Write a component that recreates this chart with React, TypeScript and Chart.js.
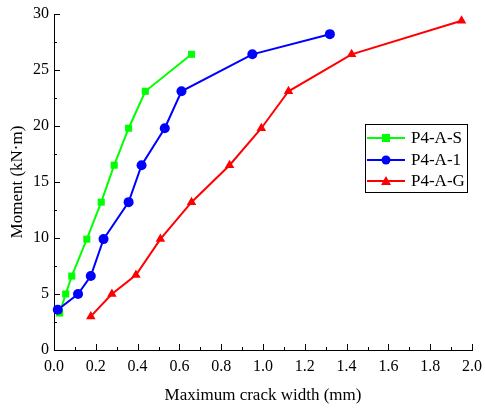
import React, { useEffect, useRef } from "react";
import { Chart, registerables } from "chart.js";

Chart.register(...registerables);

const seriesNames = ["P4-A-S", "P4-A-1", "P4-A-G"];
const seriesColors = ["#00ff00", "#0000ff", "#ff0000"];
const seriesMarkers = ["rect", "circle", "triangle"];

const sX = [0.027, 0.056, 0.085, 0.157, 0.226, 0.288, 0.357, 0.437, 0.658];
const sY = [3.3, 5.0, 6.6, 9.9, 13.2, 16.5, 19.8, 23.1, 26.4];

const aX = [0.018, 0.115, 0.176, 0.237, 0.357, 0.419, 0.53, 0.61, 0.949, 1.32];
const aY = [3.6, 5.0, 6.6, 9.9, 13.2, 16.5, 19.8, 23.1, 26.4, 28.2];

const gX = [0.176, 0.277, 0.392, 0.509, 0.658, 0.84, 0.992, 1.122, 1.424, 1.95];
const gY = [3.0, 5.0, 6.7, 9.9, 13.2, 16.5, 19.8, 23.1, 26.4, 29.4];

const xTickMin = 0;
const xTickMax = 2.0;
const xTickStep = 0.2;
const yTickMin = 0;
const yTickMax = 30;
const yTickStep = 5;

const xTitle = "Maximum crack width (mm)";
const yTitle = "Moment (kN·m)";

const FONT = "'Times New Roman', 'Liberation Serif', serif";

function pts(xs: number[], ys: number[]) {
  return xs.map((x, i) => ({ x, y: ys[i] }));
}

const ticksAndLegend = {
  id: "ticksAndLegend",
  afterDraw(chart: any) {
    const ctx = chart.ctx;
    const xs = chart.scales.x;
    const ys = chart.scales.y;
    const area = chart.chartArea;
    ctx.save();
    ctx.strokeStyle = "#000";
    ctx.lineWidth = 1;
    const nx = Math.round((xTickMax - xTickMin) / (xTickStep / 2));
    for (let i = 0; i <= nx; i++) {
      const v = xTickMin + (i * xTickStep) / 2;
      const px = Math.round(xs.getPixelForValue(v)) + 0.5;
      const len = i % 2 === 0 ? 6 : 3;
      ctx.beginPath();
      ctx.moveTo(px, area.bottom);
      ctx.lineTo(px, area.bottom - len);
      ctx.stroke();
    }
    const ny = Math.round((yTickMax - yTickMin) / (yTickStep / 2));
    for (let i = 0; i <= ny; i++) {
      const v = yTickMin + (i * yTickStep) / 2;
      const py = Math.round(ys.getPixelForValue(v)) + 0.5;
      const len = i % 2 === 0 ? 6 : 3;
      ctx.beginPath();
      ctx.moveTo(area.left, py);
      ctx.lineTo(area.left + len, py);
      ctx.stroke();
    }
    // legend
    const bx = 365.5, by = 124.5, bw = 102, bh = 68;
    ctx.fillStyle = "#fff";
    ctx.fillRect(bx, by, bw, bh);
    ctx.strokeStyle = "#000";
    ctx.lineWidth = 1;
    ctx.strokeRect(bx, by, bw, bh);
    const rows = [138, 160, 181];
    ctx.font = `17px ${FONT}`;
    ctx.textBaseline = "middle";
    ctx.textAlign = "left";
    seriesNames.forEach((name, i) => {
      const yy = rows[i];
      ctx.strokeStyle = seriesColors[i];
      ctx.lineWidth = 2;
      ctx.beginPath();
      ctx.moveTo(367, yy);
      ctx.lineTo(405, yy);
      ctx.stroke();
      ctx.fillStyle = seriesColors[i];
      ctx.beginPath();
      if (seriesMarkers[i] === "rect") {
        ctx.fillRect(386 - 4, yy - 4, 8, 8);
      } else if (seriesMarkers[i] === "circle") {
        ctx.arc(386, yy, 4.5, 0, Math.PI * 2);
        ctx.fill();
      } else {
        ctx.moveTo(386, yy - 5);
        ctx.lineTo(391, yy + 4);
        ctx.lineTo(381, yy + 4);
        ctx.closePath();
        ctx.fill();
      }
      ctx.fillStyle = "#000";
      ctx.fillText(name, 411, yy + 1);
    });
    ctx.restore();
  },
};

export default function App() {
  const ref = useRef<HTMLCanvasElement | null>(null);
  useEffect(() => {
    if (!ref.current) return;
    const data = [pts(sX, sY), pts(aX, aY), pts(gX, gY)];
    const chart = new Chart(ref.current, {
      type: "line",
      data: {
        datasets: seriesNames.map((name, i) => ({
          label: name,
          data: data[i],
          borderColor: seriesColors[i],
          backgroundColor: seriesColors[i],
          borderWidth: 2,
          pointStyle: seriesMarkers[i] as any,
          pointRadius: seriesMarkers[i] === "triangle" ? 5.5 : 5,
          pointBorderWidth: 0,
          tension: 0,
          fill: false,
          clip: false as any,
          order: 3 - i,
        })),
      },
      options: {
        responsive: false,
        animation: false,
        layout: { padding: { top: 14, right: 13, left: 0, bottom: 0 } },
        plugins: { legend: { display: false }, tooltip: { enabled: false } },
        scales: {
          x: {
            type: "linear",
            min: xTickMin,
            max: xTickMax,
            grid: { display: false, drawTicks: false },
            border: { display: true, color: "#000", width: 1 },
            ticks: {
              stepSize: xTickStep,
              padding: 7,
              color: "#000",
              font: { family: FONT, size: 16 },
              callback: (v: any) => Number(v).toFixed(1),
            },
            title: {
              display: true,
              text: xTitle,
              color: "#000",
              font: { family: FONT, size: 17 },
              padding: { top: 0, bottom: 4 },
            },
            afterFit: (s: any) => {
              s.height = 60;
              s.paddingRight = 0;
              s.paddingLeft = 0;
            },
          },
          y: {
            type: "linear",
            min: yTickMin,
            max: yTickMax,
            grid: { display: false, drawTicks: false },
            border: { display: true, color: "#000", width: 1 },
            ticks: {
              stepSize: yTickStep,
              padding: 5,
              color: "#000",
              font: { family: FONT, size: 16 },
            },
            title: {
              display: true,
              text: yTitle,
              color: "#000",
              font: { family: FONT, size: 17 },
              padding: { top: 7, bottom: 0 },
            },
            afterFit: (s: any) => {
              s.width = 54;
              s.paddingTop = 0;
              s.paddingBottom = 0;
            },
          },
        },
      },
      plugins: [ticksAndLegend],
    });
    return () => chart.destroy();
  }, []);
  return (
    <div style={{ position: "fixed", left: 0, top: 0, width: 485, height: 410, background: "#fff" }}>
      <canvas ref={ref} width={485} height={410} style={{ width: 485, height: 410 }} />
    </div>
  );
}
